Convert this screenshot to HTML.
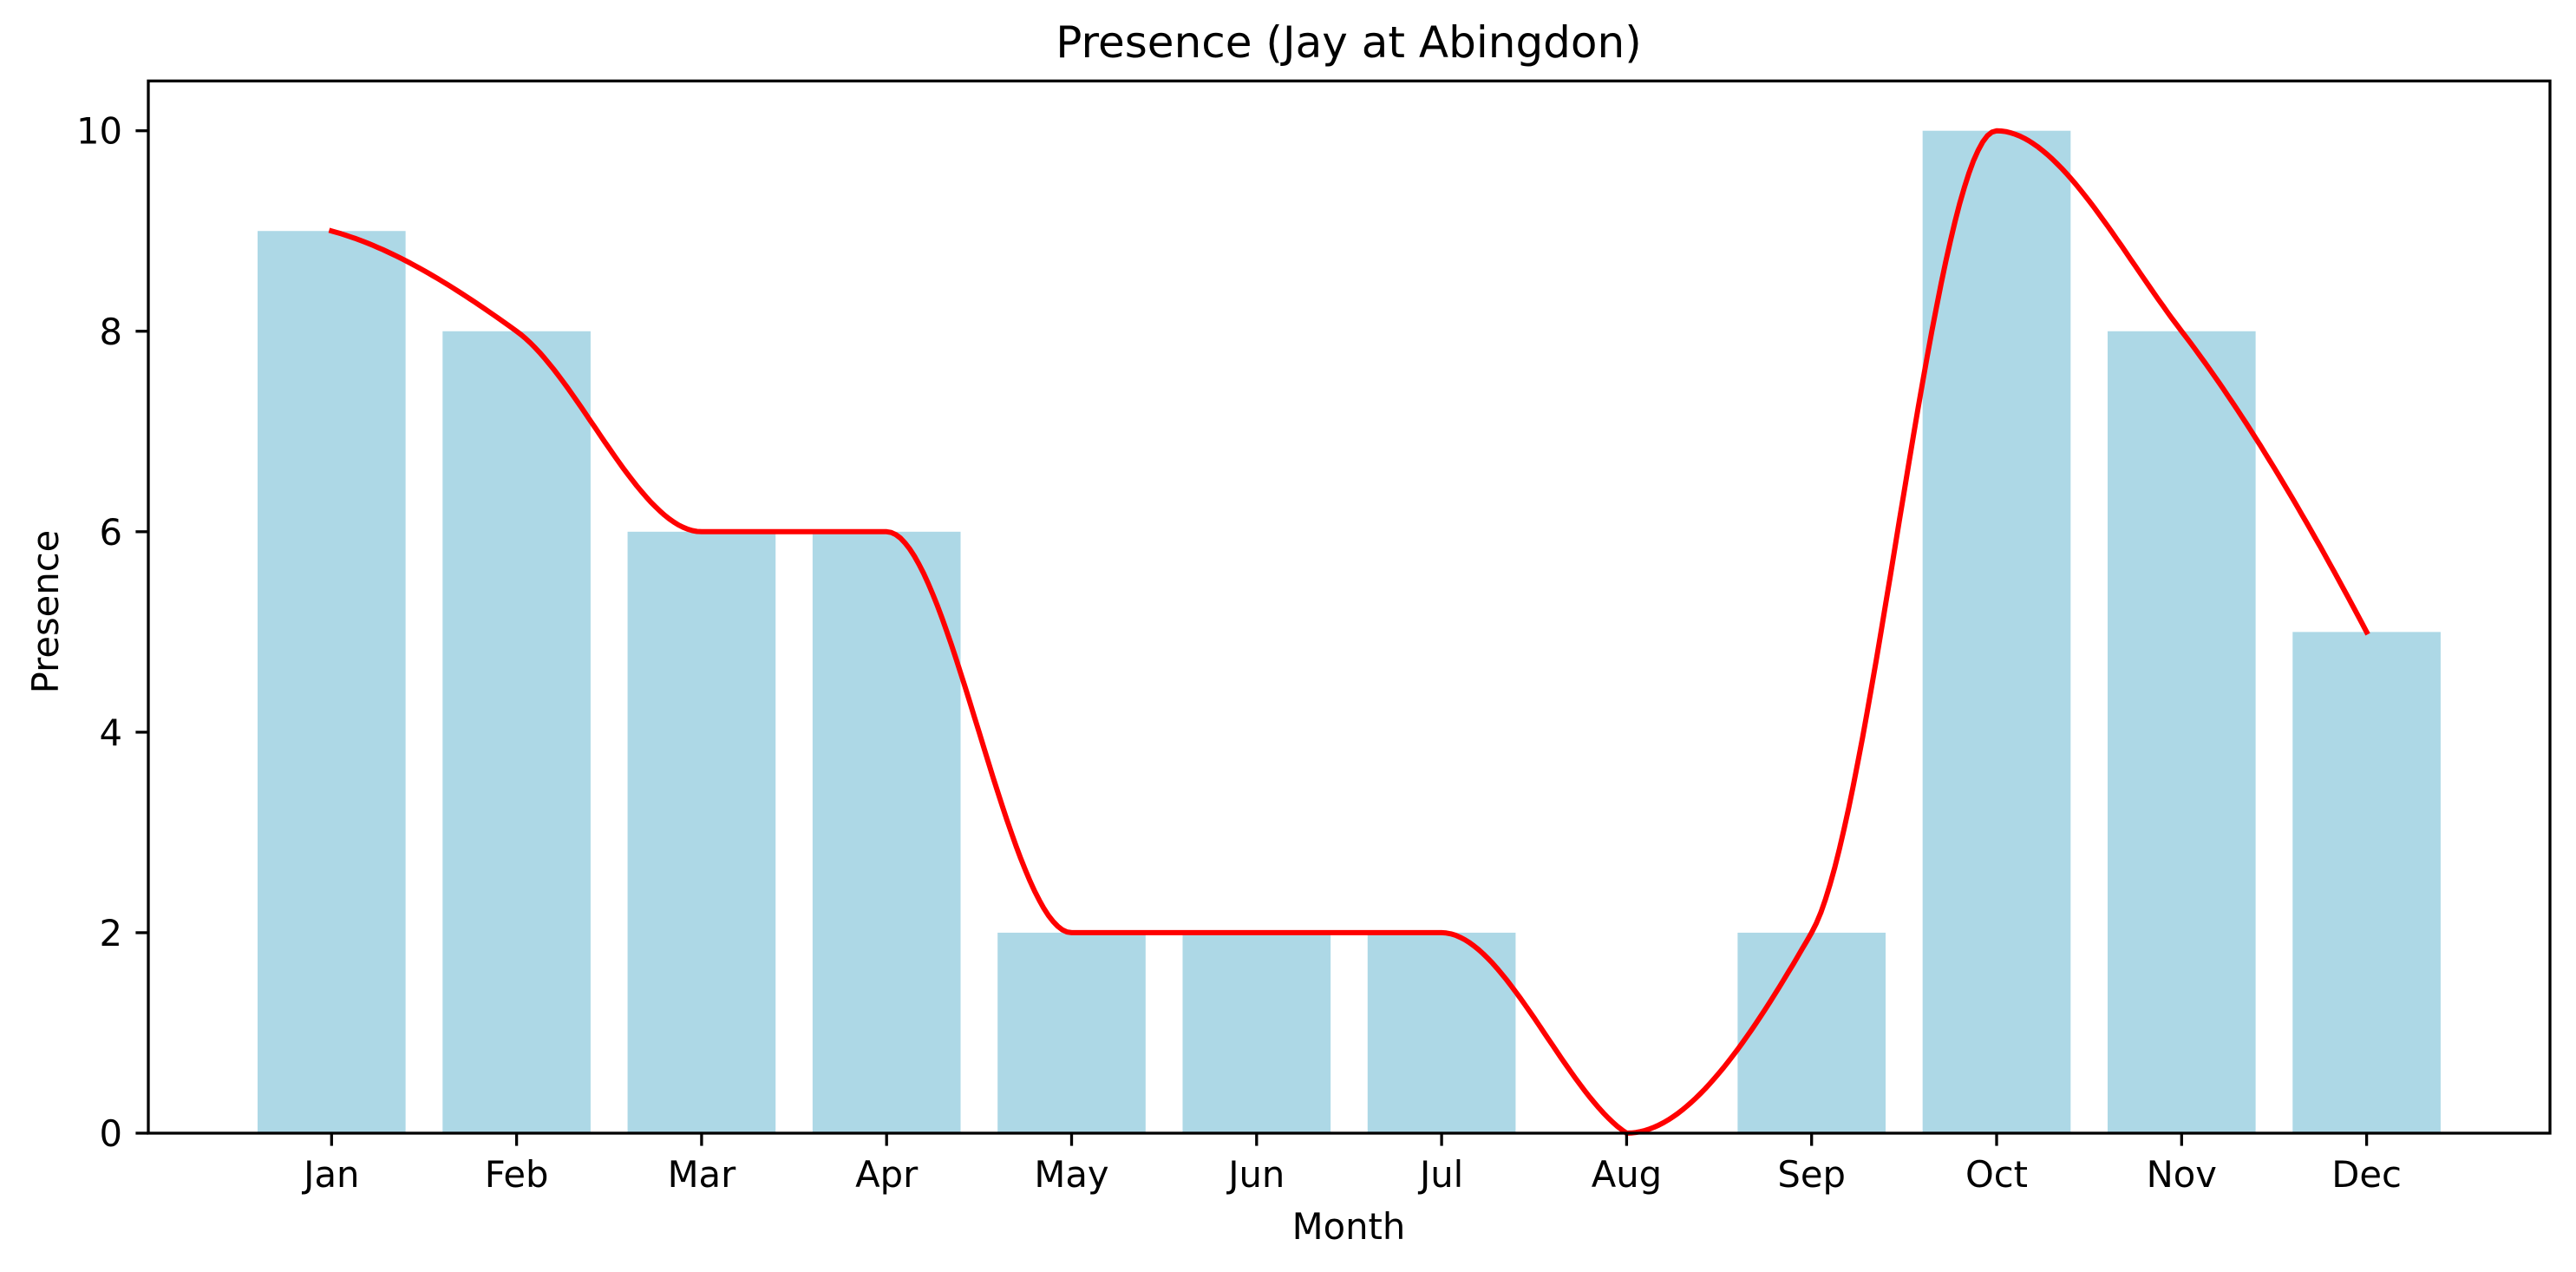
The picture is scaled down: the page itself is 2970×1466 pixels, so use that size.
<!DOCTYPE html>
<html><head><meta charset="utf-8"><style>
html,body{margin:0;padding:0;background:#fff;}
svg{display:block;}
text{font-family:"DejaVu Sans","Liberation Sans",sans-serif;fill:#000;}
</style></head><body>
<svg id="s" width="2970" height="1466" viewBox="0 0 2970 1466" xmlns="http://www.w3.org/2000/svg">
<rect width="2970" height="1466" fill="#fff"/>
<g id="bars" fill="#add8e6"></g>
<path id="curve" fill="none" stroke="#ff0000" stroke-width="6" stroke-linejoin="round" stroke-linecap="square"/>
<rect x="171" y="93.3" width="2769" height="1212.7" fill="none" stroke="#000" stroke-width="3.3"/>
<g id="ticks" stroke="#000" stroke-width="3.3"></g>
<g id="labels" font-size="41.7"></g>
<text x="1555" y="66" font-size="50" text-anchor="middle">Presence (Jay at Abingdon)</text>
<text x="1555" y="1428" font-size="41.7" text-anchor="middle">Month</text>
<text x="0" y="0" font-size="41.7" text-anchor="middle" transform="translate(67,705) rotate(-90)">Presence</text>
</svg>
<script>
var d=[9,8,6,6,2,2,2,0,2,10,8,5],m=["Jan","Feb","Mar","Apr","May","Jun","Jul","Aug","Sep","Oct","Nov","Dec"];
var U=213.3,X0=382.3,Y0=1306,V=115.53;
function X(i){return X0+i*U}function Y(v){return Y0-v*V}
var ns="http://www.w3.org/2000/svg";
function el(t,a,p,txt){var e=document.createElementNS(ns,t);for(var k in a)e.setAttribute(k,a[k]);if(txt)e.textContent=txt;document.getElementById(p).appendChild(e);}
for(var i=0;i<12;i++){
 el("rect",{x:X(i)-0.4*U,y:Y(d[i]),width:0.8*U,height:d[i]*V},"bars");
 el("line",{x1:X(i),y1:1306,x2:X(i),y2:1320.6},"ticks");
 el("text",{x:X(i),y:1368,"text-anchor":"middle"},"labels",m[i]);
}
for(var v=0;v<=10;v+=2){
 el("line",{x1:171,y1:Y(v),x2:156.4,y2:Y(v)},"ticks");
 el("text",{x:141,y:Y(v)+15,"text-anchor":"end"},"labels",String(v));
}
var n=12,delta=[],dd=[];
for(i=0;i<n-1;i++)delta.push(d[i+1]-d[i]);
for(i=1;i<n-1;i++){if(delta[i-1]*delta[i]<=0)dd[i]=0;else dd[i]=2/(1/delta[i-1]+1/delta[i]);}
function ed(d0,d1){var t=(3*d0-d1)/2;if(t*d0<=0)t=0;else if(d0*d1<=0&&Math.abs(t)>Math.abs(3*d0))t=3*d0;return t;}
dd[0]=ed(delta[0],delta[1]);dd[n-1]=ed(delta[n-2],delta[n-3]);
var p="";
for(i=0;i<n-1;i++){
 var a=dd[i],b=dd[i+1];
 if(i==6)b=-1.2;
 for(var k=0;k<=40;k++){if(i>0&&k==0)continue;var t=k/40,t2=t*t,t3=t2*t;
 var y=(2*t3-3*t2+1)*d[i]+(t3-2*t2+t)*a+(-2*t3+3*t2)*d[i+1]+(t3-t2)*b;
 p+=(p?"L":"M")+X(i+t).toFixed(1)+","+Y(y).toFixed(1);}}
document.getElementById("curve").setAttribute("d",p);
</script>
</body></html>
